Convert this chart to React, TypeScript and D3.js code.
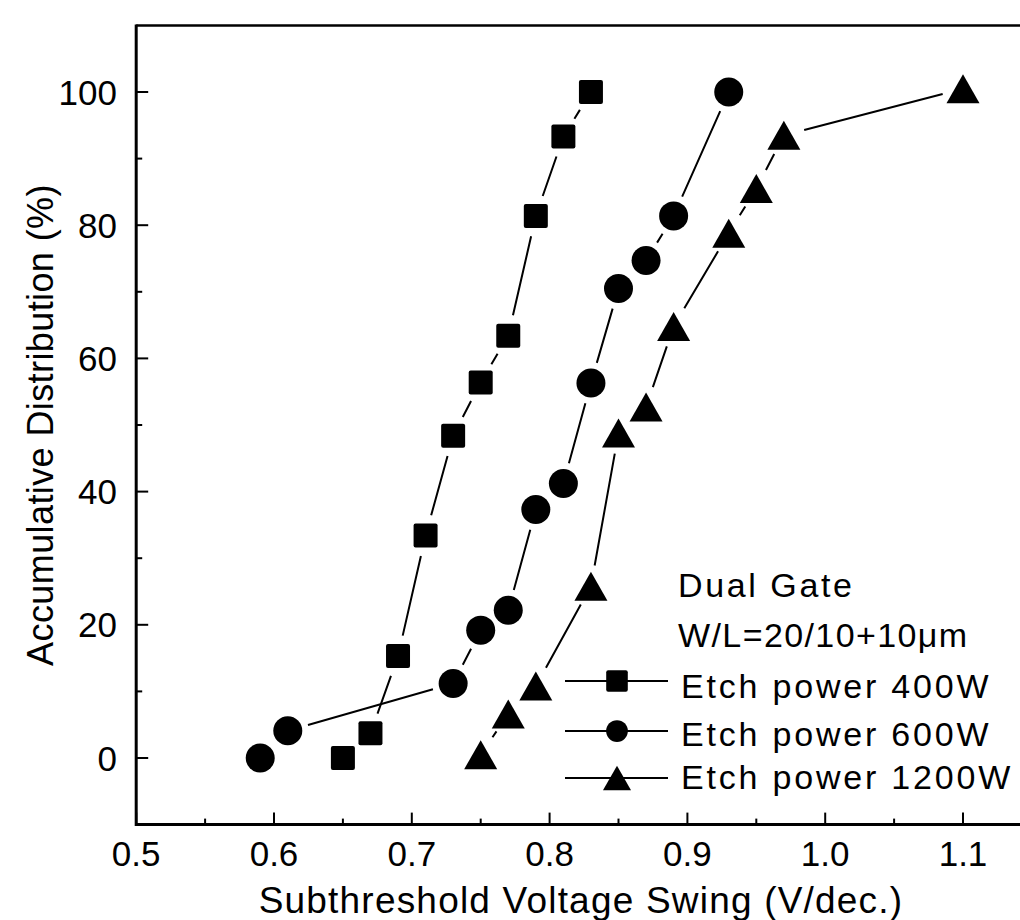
import React from "react";
import * as d3 from "d3";

// ---- data ----
const sw400 = [0.65, 0.67, 0.69, 0.71, 0.73, 0.75, 0.77, 0.79, 0.81, 0.83];
const acc400 = [0, 3.7, 15.3, 33.4, 48.4, 56.4, 63.4, 81.4, 93.3, 100];
const sw600 = [0.59, 0.61, 0.73, 0.75, 0.77, 0.79, 0.81, 0.83, 0.85, 0.87, 0.89, 0.93];
const acc600 = [0, 4.1, 11.2, 19.2, 22.2, 37.3, 41.2, 56.3, 70.5, 74.7, 81.4, 100];
const sw1200 = [0.75, 0.77, 0.79, 0.83, 0.85, 0.87, 0.89, 0.93, 0.95, 0.97, 1.1];
const acc1200 = [0.5, 6.6, 10.8, 25.8, 48.8, 52.7, 64.8, 78.8, 85.5, 93.5, 100.5];

const xMajor = [0.5, 0.6, 0.7, 0.8, 0.9, 1.0, 1.1];
const xMinor = [0.55, 0.65, 0.75, 0.85, 0.95, 1.05];
const yMajor = [0, 20, 40, 60, 80, 100];
const yMinor = [10, 30, 50, 70, 90];

const legendTitle = ["Dual Gate", "W/L=20/10+10\u03bcm"];
const seriesNames = ["Etch power 400W", "Etch power 600W", "Etch power 1200W"];
const seriesShapes = ["square", "circle", "triangle"];

const W = 1020;
const H = 920;
const FONT = "'Liberation Sans', Arial, Helvetica, sans-serif";

const x = d3.scaleLinear().domain([0.5, 1.1]).range([136.2, 963]);
const y = d3.scaleLinear().domain([0, 100]).range([758, 92]);
const xLeft = x(0.5);
const xRight = x(1.16);
const yBottom = y(-10);
const yTop = y(110);

function Marker({ shape, cx, cy, k = 1 }: { shape: string; cx: number; cy: number; k?: number }) {
  if (shape === "square") {
    const s = 24 * k;
    return <rect x={cx - s / 2} y={cy - s / 2} width={s} height={s} rx={2} fill="#000" />;
  }
  if (shape === "circle") {
    return <circle cx={cx} cy={cy} r={14.5 * k} fill="#000" />;
  }
  const w = 33 * k;
  const h = 29 * k;
  return (
    <path
      d={`M${cx},${cy - h / 2}L${cx + w / 2},${cy + h / 2}L${cx - w / 2},${cy + h / 2}Z`}
      fill="#000"
    />
  );
}

function GappedLine({ xs, ys, gap }: { xs: number[]; ys: number[]; gap: number }) {
  const segs: string[] = [];
  for (let i = 0; i < xs.length - 1; i++) {
    const x0 = x(xs[i]);
    const y0 = y(ys[i]);
    const x1 = x(xs[i + 1]);
    const y1 = y(ys[i + 1]);
    const dx = x1 - x0;
    const dy = y1 - y0;
    const len = Math.hypot(dx, dy);
    if (len <= 2 * gap + 2) continue;
    const ux = dx / len;
    const uy = dy / len;
    segs.push(
      `M${x0 + ux * gap},${y0 + uy * gap}L${x1 - ux * gap},${y1 - uy * gap}`
    );
  }
  return <path d={segs.join("")} stroke="#000" strokeWidth={2} fill="none" />;
}

export default function App() {
  const series = [
    { xs: sw400, ys: acc400 },
    { xs: sw600, ys: acc600 },
    { xs: sw1200, ys: acc1200 },
  ];
  const legendRowY = [681, 731, 778];
  const legendTextY = [698, 746, 789];
  const legendK = [0.9, 0.75, 0.85];

  return (
    <svg
      width={W}
      height={H}
      style={{ position: "absolute", left: 0, top: 0, background: "#fff" }}
      fontFamily={FONT}
    >
      <rect x={0} y={0} width={W} height={H} fill="#fff" />

      {/* frame */}
      <line x1={xLeft} y1={yTop} x2={xRight} y2={yTop} stroke="#000" strokeWidth={2.5} />
      <line x1={xLeft} y1={yBottom} x2={xRight} y2={yBottom} stroke="#000" strokeWidth={3} />
      <line x1={xLeft} y1={yTop - 1} x2={xLeft} y2={yBottom + 1.5} stroke="#000" strokeWidth={3} />
      <line x1={xRight} y1={yTop} x2={xRight} y2={yBottom} stroke="#000" strokeWidth={3} />

      {/* x ticks */}
      {xMajor.map((v) => (
        <line key={"xM" + v} x1={x(v)} x2={x(v)} y1={yBottom} y2={yBottom - 12} stroke="#000" strokeWidth={2} />
      ))}
      {xMinor.map((v) => (
        <line key={"xm" + v} x1={x(v)} x2={x(v)} y1={yBottom} y2={yBottom - 6} stroke="#000" strokeWidth={2} />
      ))}
      {xMajor.map((v) => (
        <text key={"xl" + v} x={x(v)} y={866} fontSize={35} textAnchor="middle" fill="#000">
          {d3.format(".1f")(v)}
        </text>
      ))}

      {/* y ticks */}
      {yMajor.map((v) => (
        <line key={"yM" + v} x1={xLeft} x2={xLeft + 12} y1={y(v)} y2={y(v)} stroke="#000" strokeWidth={2} />
      ))}
      {yMinor.map((v) => (
        <line key={"ym" + v} x1={xLeft} x2={xLeft + 6} y1={y(v)} y2={y(v)} stroke="#000" strokeWidth={2} />
      ))}
      {yMajor.map((v) => (
        <text key={"yl" + v} x={117} y={y(v) + 12.5} fontSize={35} textAnchor="end" fill="#000">
          {v}
        </text>
      ))}

      {/* axis titles */}
      <text x={581} y={913} fontSize={37} textAnchor="middle" letterSpacing={1.2} fill="#000">
        Subthreshold Voltage Swing (V/dec.)
      </text>
      <text
        transform={`translate(53,425) rotate(-90)`}
        fontSize={36}
        textAnchor="middle"
        letterSpacing={0.4}
        fill="#000"
      >
        Accumulative Distribution (%)
      </text>

      {/* series lines and markers */}
      {series.map((s, i) => (
        <g key={"s" + i}>
          <GappedLine xs={s.xs} ys={s.ys} gap={21} />
          {s.xs.map((v, j) => (
            <Marker key={j} shape={seriesShapes[i]} cx={x(v)} cy={y(s.ys[j])} />
          ))}
        </g>
      ))}

      {/* legend */}
      <text x={678} y={597} fontSize={34} letterSpacing={2.6} fill="#000">
        {legendTitle[0]}
      </text>
      <text x={678} y={647} fontSize={34} letterSpacing={1.4} fill="#000">
        {legendTitle[1]}
      </text>
      {seriesNames.map((name, i) => (
        <g key={"lg" + i}>
          <line x1={565} x2={668} y1={legendRowY[i]} y2={legendRowY[i]} stroke="#000" strokeWidth={2} />
          <Marker shape={seriesShapes[i]} cx={617} cy={legendRowY[i]} k={legendK[i]} />
          <text x={681} y={legendTextY[i]} fontSize={34} letterSpacing={2.8} fill="#000">
            {name}
          </text>
        </g>
      ))}
    </svg>
  );
}
